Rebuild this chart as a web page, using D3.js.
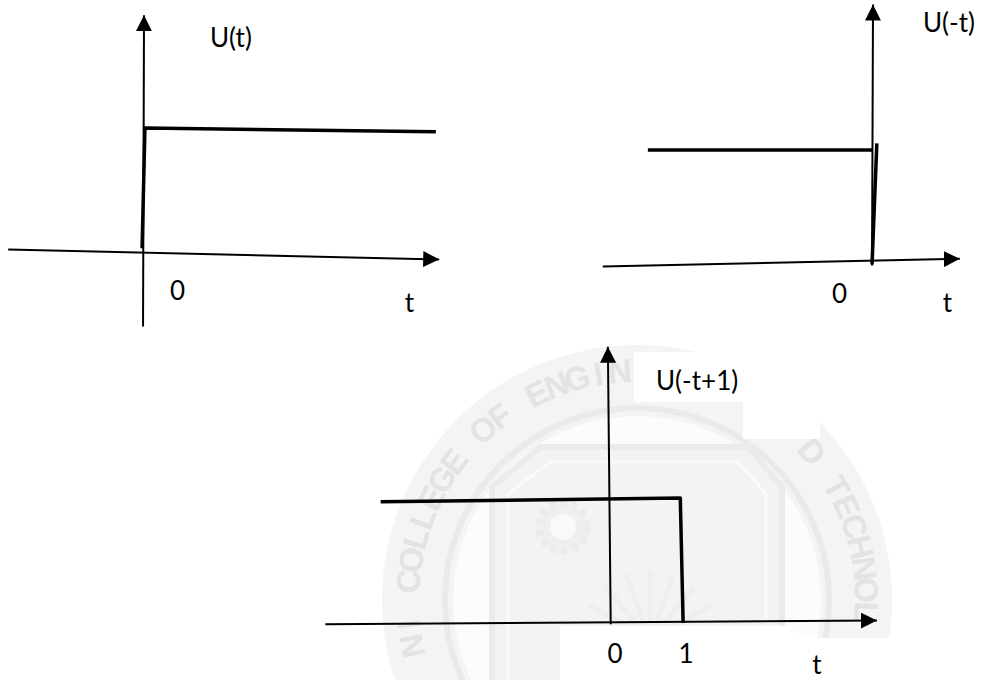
<!DOCTYPE html>
<html>
<head>
<meta charset="utf-8">
<script src="https://cdn.jsdelivr.net/npm/d3@7"></script>
<style>
  html, body { margin: 0; padding: 0; background: #fff; }
  svg { display: block; }
</style>
</head>
<body>
<svg id="chart" width="981" height="680"></svg>
<script>
// ---------------- data ----------------
// Signal names shown beside each vertical axis
const panelTitles = ["U(t)", "U(-t)", "U(-t+1)"];
// Tick values on the time axis and their labels
const tickValues = [[0], [0], [0, 1]];
const tickLabels = [["0"], ["0"], ["0", "1"]];
const timeLabel = "t";

// Hand-drawn signal strokes as [t, U] points
const stepUt = [[-0.04, 0.03], [0.02, 1.0], [6.08, 0.97]];
const stepUminusT = [[-4.69, 1.0], [0.0, 1.0]];
const edgeUminusT = [[-0.02, -0.03], [0.08, 1.06]];
const stepUminusTplus1 = [[-3.23, 0.97], [0.99, 1.0], [1.03, 0.0]];

// Hand-drawn axis strokes as [t, U] points (time axis, amplitude axis)
const timeAxes = [
  [[-2.83, 0.02], [6.15, -0.06]],
  [[-5.63, -0.05], [1.81, 0.02]],
  [[-4.01, -0.01], [3.76, 0.02]]
];
const ampAxes = [
  [[-0.02, -0.60], [0.0, 1.91]],
  [[-0.02, -0.04], [0.0, 2.31]],
  [[0.01, -0.01], [-0.03, 2.21]]
];

// Seal text of the background watermark
const sealText = "ROHINI COLLEGE OF ENGINEERING AND TECHNOLOGY";

// ---------------- layout ----------------
const W = 981, H = 680;
const panels = [
  { xRange: [144, 192], yRange: [252, 128], strokes: [stepUt],
    title: [210, 47], tickDx: 33.5, tickY: 300, tLabel: [409.5, 312] },
  { xRange: [873, 921], yRange: [261, 150], strokes: [stepUminusT, edgeUminusT],
    title: [923, 32], tickDx: -33.5, tickY: 303, tLabel: [947.5, 312] },
  { xRange: [610, 681], yRange: [623, 498], strokes: [stepUminusTplus1],
    title: [656, 390], tickDx: 5, tickY: 663, tLabel: [817, 674] }
];

const svg = d3.select("#chart");
const defs = svg.append("defs");

defs.append("marker")
  .attr("id", "arrow")
  .attr("viewBox", "0 -8 16 16")
  .attr("refX", 16).attr("refY", 0)
  .attr("markerWidth", 16).attr("markerHeight", 16)
  .attr("markerUnits", "userSpaceOnUse")
  .attr("orient", "auto")
  .append("path")
  .attr("d", "M0,-8L16,0L0,8Z")
  .attr("fill", "#000");

// ---------------- watermark seal ----------------
const seal = svg.append("g").attr("class", "seal");
const cx = 637, cy = 600;
seal.append("circle").attr("cx", cx).attr("cy", cy).attr("r", 255).attr("fill", "#f4f4f4");
seal.append("circle").attr("cx", cx).attr("cy", cy).attr("r", 192)
  .attr("fill", "none").attr("stroke", "#eaeaea").attr("stroke-width", 6);
seal.append("circle").attr("cx", cx).attr("cy", cy).attr("r", 184).attr("fill", "#fcfcfc");

// white label boxes over the watermark
const boxes = [[634, 352, 186, 50], [743, 352, 77, 87], [560, 626, 233, 60], [792, 638, 120, 50]];
const inBox = (px, py) => boxes.some(b => px >= b[0] - 6 && px <= b[0] + b[2] + 6 && py >= b[1] - 6 && py <= b[1] + b[3] + 6);

// seal letters set one by one round the ring, upright and facing outward
const letterR = 218, stepAngle = 5.4, firstAngle = -25.9 - 18 * stepAngle;
const letters = sealText.split("").map((ch, k) => {
  const deg = firstAngle + k * stepAngle;
  const a = deg * Math.PI / 180;
  const mid = letterR + 12;
  return {
    ch, deg,
    x: cx + letterR * Math.sin(a), y: cy - letterR * Math.cos(a),
    mx: cx + mid * Math.sin(a), my: cy - mid * Math.cos(a)
  };
}).filter(d => d.ch !== " " && d.my < H - 14 && !inBox(d.mx, d.my));

seal.append("g").selectAll("text").data(letters).join("text")
  .attr("transform", d => `translate(${d.x},${d.y}) rotate(${d.deg})`)
  .attr("text-anchor", "middle")
  .attr("font-family", "'Liberation Sans', Arial, sans-serif")
  .attr("font-weight", "bold")
  .attr("font-size", 33)
  .attr("fill", "#e3e3e3")
  .text(d => d.ch);

// shield
const shieldOuter = [[540, 447], [748, 447], [782, 487], [782, 700], [492, 700], [492, 487]];
const shieldInner = [[550, 462], [738, 462], [766, 494], [766, 700], [508, 700], [508, 494]];
seal.append("path").attr("d", d3.line()(shieldOuter) + "Z")
  .attr("fill", "#f3f3f3").attr("stroke", "#ebebeb").attr("stroke-width", 6);
seal.append("path").attr("d", d3.line()(shieldInner) + "Z")
  .attr("fill", "none").attr("stroke", "#fafafa").attr("stroke-width", 3);
// gear
seal.append("circle").attr("cx", 563).attr("cy", 527).attr("r", 24)
  .attr("fill", "#efefef").attr("stroke", "#ebebeb").attr("stroke-width", 8)
  .attr("stroke-dasharray", "6 5");
seal.append("circle").attr("cx", 563).attr("cy", 527).attr("r", 13).attr("fill", "#f9f9f9");
// rays of the emblem
const rayAngles = [-60, -40, -20, 0, 20, 40, 60];
seal.append("g").selectAll("line").data(rayAngles).join("line")
  .attr("x1", 650).attr("y1", 640)
  .attr("x2", d => 650 + 70 * Math.sin(d * Math.PI / 180))
  .attr("y2", d => 640 - 70 * Math.cos(d * Math.PI / 180))
  .attr("stroke", "#eeeeee").attr("stroke-width", 5);

svg.append("g").selectAll("rect").data(boxes).join("rect")
  .attr("x", d => d[0]).attr("y", d => d[1])
  .attr("width", d => d[2]).attr("height", d => d[3])
  .attr("fill", "#fff");

// ---------------- panels ----------------
const fontFamily = "Lato, 'Open Sans', sans-serif";
const fontSize = 26;

panels.forEach((p, i) => {
  const x = d3.scaleLinear().domain([0, 1]).range(p.xRange);
  const y = d3.scaleLinear().domain([0, 1]).range(p.yRange);
  const line = d3.line().x(d => x(d[0])).y(d => y(d[1]));
  const g = svg.append("g").attr("class", "panel-" + i);

  // axes
  [timeAxes[i], ampAxes[i]].forEach(a => {
    g.append("path")
      .attr("d", line(a))
      .attr("fill", "none")
      .attr("stroke", "#000")
      .attr("stroke-width", 2)
      .attr("marker-end", "url(#arrow)");
  });

  // signal
  p.strokes.forEach(s => {
    g.append("path")
      .attr("d", line(s))
      .attr("fill", "none")
      .attr("stroke", "#000")
      .attr("stroke-width", 3.5)
      .attr("stroke-linejoin", "round");
  });

  // tick labels
  g.selectAll("text.tick").data(tickValues[i]).join("text")
    .attr("class", "tick")
    .attr("x", d => x(d) + p.tickDx)
    .attr("y", p.tickY)
    .attr("text-anchor", "middle")
    .attr("font-family", fontFamily)
    .attr("font-size", fontSize)
    .attr("fill", "#000")
    .text((d, j) => tickLabels[i][j]);

  // time label
  g.append("text")
    .attr("x", p.tLabel[0]).attr("y", p.tLabel[1])
    .attr("text-anchor", "middle")
    .attr("font-family", fontFamily)
    .attr("font-size", fontSize)
    .attr("fill", "#000")
    .text(timeLabel);

  // signal name
  g.append("text")
    .attr("x", p.title[0]).attr("y", p.title[1])
    .attr("font-family", fontFamily)
    .attr("font-size", fontSize)
    .attr("fill", "#000")
    .text(panelTitles[i]);
});
</script>
</body>
</html>
